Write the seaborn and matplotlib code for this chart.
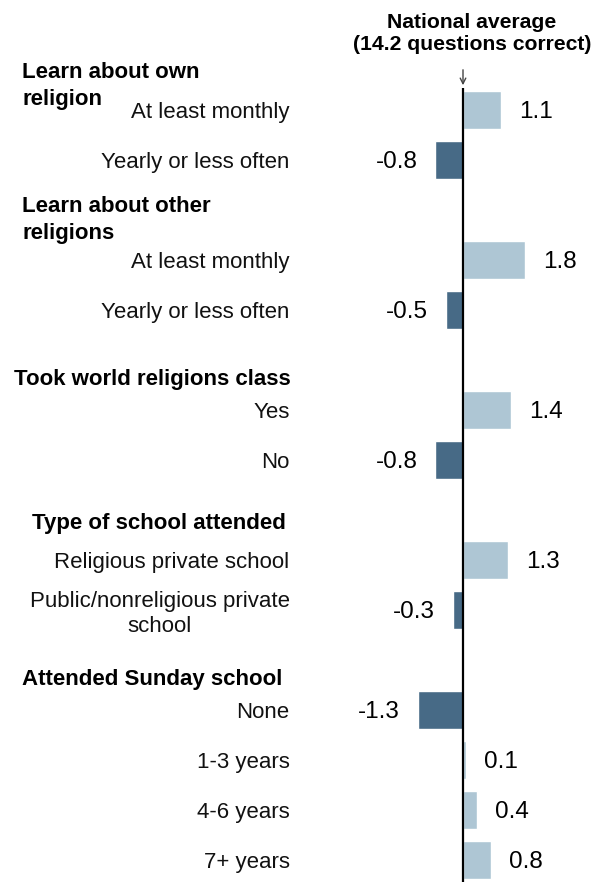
import numpy as np
import pandas as pd
import seaborn as sns
import matplotlib.pyplot as plt
import matplotlib.transforms as mtransforms

# data
groups = ["Learn about own\nreligion", "Learn about other\nreligions",
          "Took world religions class", "Type of school attended",
          "Attended Sunday school"]
group_sizes = [2, 2, 2, 2, 4]
labels = ["At least monthly", "Yearly or less often",
          "At least monthly", "Yearly or less often",
          "Yes", "No",
          "Religious private school", "Public/nonreligious private\nschool",
          "None", "1-3 years", "4-6 years", "7+ years"]
values = [1.1, -0.8, 1.8, -0.5, 1.4, -0.8, 1.3, -0.3, -1.3, 0.1, 0.4, 0.8]
header_title = "National average\n(14.2 questions correct)"

light = "#aec6d4"
dark = "#476a86"

# row positions: one empty slot between groups
pos = []
p = 0
for n in group_sizes:
    pos += list(range(p, p + n))
    p += n + 1

df = pd.DataFrame({"label": labels, "value": values, "pos": pos})
df["sign"] = np.where(df["value"] >= 0, "pos", "neg")

sns.set_style("white")
plt.rcParams["font.family"] = ["Liberation Sans", "DejaVu Sans"]

W, H = 597, 882
fig = plt.figure(figsize=(W / 100, H / 100), dpi=100)
ax = fig.add_axes([300 / W, 0, 297 / W, (882 - 88) / H])

sns.barplot(data=df, x="value", y="pos", hue="sign", orient="h",
            native_scale=True, dodge=False, width=0.77, saturation=1,
            palette={"pos": light, "neg": dark}, legend=False, ax=ax)

for c in ax.containers:
    lbls = ax.bar_label(c, fmt="%.1f", padding=13, fontsize=17.5, color="black")
    for t in lbls:
        t.set_va("center_baseline")

scale = 34.4  # px per unit
ax.set_xlim((300 - 463) / scale, (597 - 463) / scale)
ax.set_ylim(15.44, -0.44)
ax.axvline(0, color="black", lw=1.6, zorder=5)
sns.despine(ax=ax, left=True, bottom=True)
ax.set_xticks([])
ax.set_xlabel("")
ax.set_ylabel("")
ax.set_yticks(pos)
ax.set_yticklabels(labels, fontsize=16, color="#111111", multialignment="center")
ax.tick_params(axis="y", length=0, pad=7.5)

# group headers, one text per line
tr = mtransforms.blended_transform_factory(fig.transFigure, ax.transData)
header_x = [22, 22, 14, 32, 22]
header_y = [-0.74, 1.94, 5.4, 8.26, 11.4]
for g, hx, hy in zip(groups, header_x, header_y):
    for i, line in enumerate(g.split("\n")):
        fig.text(hx / W, hy + i * 0.54, line, transform=tr, fontsize=16,
                 fontweight="bold", ha="left", va="center", color="black")

# national average note with arrow
fig.text(472 / W, 1 - 34 / H, header_title, fontsize=15.2, fontweight="bold",
         ha="center", va="center", linespacing=1.2, color="black")
ax.annotate("", xy=(0, -0.44), xytext=(0, -0.86),
            arrowprops=dict(arrowstyle="->", color="#444444", lw=1),
            annotation_clip=False)

fig.savefig("out.png", dpi=100, facecolor="white")
